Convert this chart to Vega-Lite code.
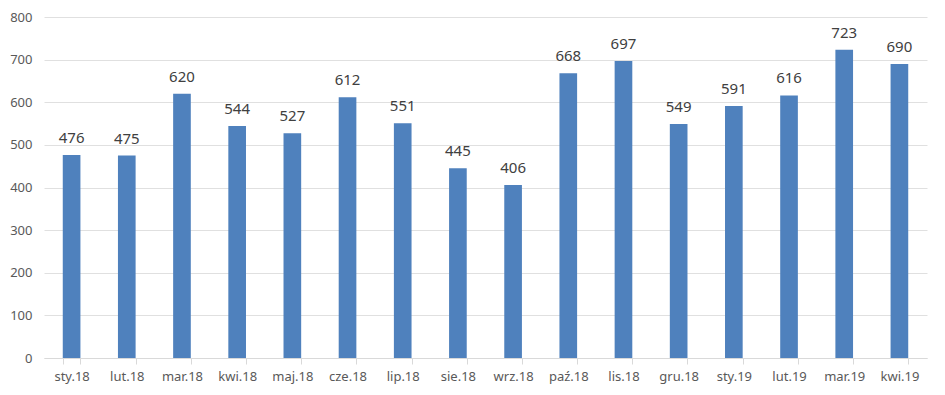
{
  "$schema": "https://vega.github.io/schema/vega-lite/v6.json",
  "autosize": "none",
  "width": 883,
  "height": 341,
  "padding": {"left": 44, "top": 17, "right": 18, "bottom": 37},
  "background": "white",
  "config": {"view": {"stroke": null}, "font": "Noto Sans"},
  "data": {"values": [
    {"m": "sty.18", "v": 476}, {"m": "lut.18", "v": 475}, {"m": "mar.18", "v": 620},
    {"m": "kwi.18", "v": 544}, {"m": "maj.18", "v": 527}, {"m": "cze.18", "v": 612},
    {"m": "lip.18", "v": 551}, {"m": "sie.18", "v": 445}, {"m": "wrz.18", "v": 406},
    {"m": "paź.18", "v": 668}, {"m": "lis.18", "v": 697}, {"m": "gru.18", "v": 549},
    {"m": "sty.19", "v": 591}, {"m": "lut.19", "v": 616}, {"m": "mar.19", "v": 723},
    {"m": "kwi.19", "v": 690}
  ]},
  "encoding": {
    "x": {"field": "m", "type": "nominal", "sort": null,
      "scale": {"paddingInner": 0.68, "paddingOuter": 0.34},
      "axis": {"title": null, "labelAngle": 0, "labelFontSize": 13, "labelColor": "#595959",
        "domainColor": "#d9d9d9", "tickColor": "#d9d9d9", "tickBand": "extent", "tickSize": 6,
        "labelPadding": 6, "grid": false, "labelOverlap": false}},
    "y": {"field": "v", "type": "quantitative",
      "scale": {"domain": [0, 800], "nice": false},
      "axis": {"title": null, "values": [0,100,200,300,400,500,600,700,800], "labelOverlap": false,
        "labelFontSize": 13, "labelColor": "#595959", "domain": false, "ticks": false,
        "labelPadding": 12, "gridColor": "#e0e0e0", "gridWidth": 1}}
  },
  "layer": [
    {"mark": {"type": "bar", "color": "#4f81bd"}},
    {"mark": {"type": "text", "dy": -17, "fontSize": 15, "color": "#404040"},
     "encoding": {"text": {"field": "v", "type": "quantitative"}}}
  ]
}
